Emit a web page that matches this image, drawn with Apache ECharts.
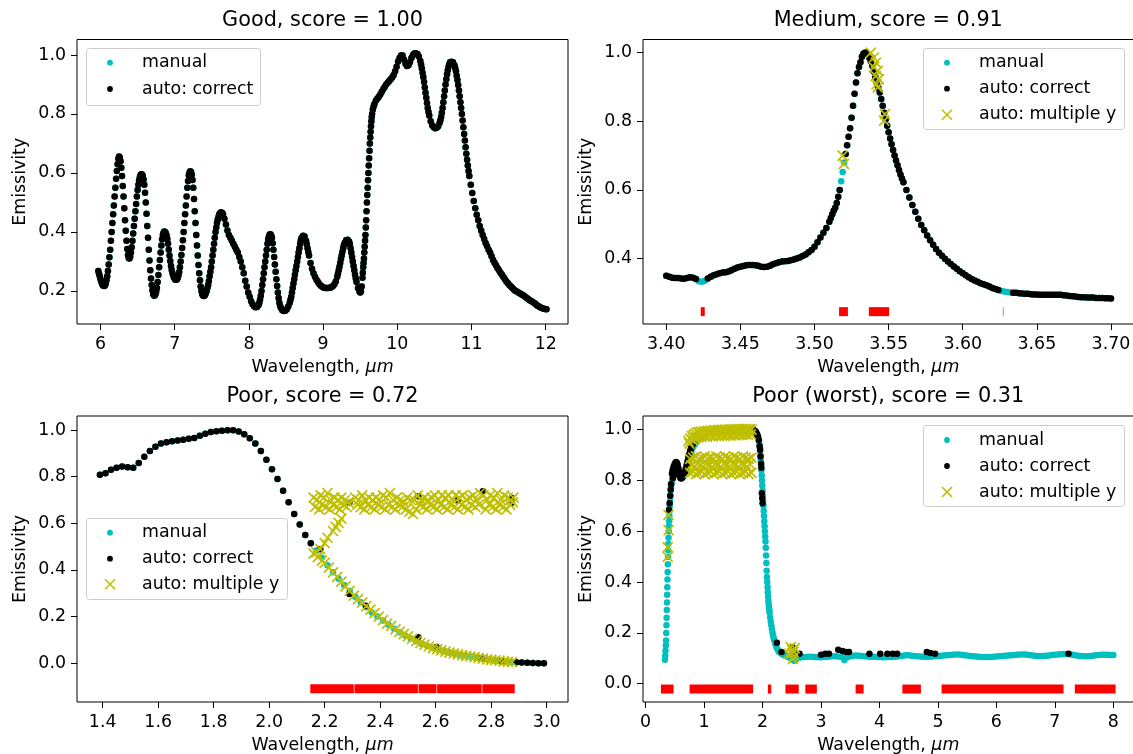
<!DOCTYPE html>
<html><head><meta charset="utf-8">
<script src="https://cdn.jsdelivr.net/npm/echarts@6/dist/echarts.min.js"></script>
<style>html,body{margin:0;padding:0;background:#fff}#c{width:1133px;height:754px}</style>
</head><body><div id="c"></div>
<script>
// ---------------- DATA ----------------
const titles = ['Good, score = 1.00', 'Medium, score = 0.91', 'Poor, score = 0.72', 'Poor (worst), score = 0.31'];
const seriesNames = ['manual', 'auto: correct', 'auto: multiple y'];
const xTicks = [[6,7,8,9,10,11,12],[3.40,3.45,3.50,3.55,3.60,3.65,3.70],[1.4,1.6,1.8,2.0,2.2,2.4,2.6,2.8,3.0],[0,1,2,3,4,5,6,7,8]];
const yTicks = [[0.2,0.4,0.6,0.8,1.0],[0.4,0.6,0.8,1.0],[0,0.2,0.4,0.6,0.8,1.0],[0,0.2,0.4,0.6,0.8,1.0]];

// Panel 1 (Good): manual and auto coincide
const p1Manual = [[5.97,.268],[5.98,.258],[5.99,.25],[6.00,.24],[6.01,.232],[6.02,.225],[6.03,.22],[6.04,.218],[6.05,.217],[6.06,.219],[6.07,.225],[6.08,.236],[6.09,.25],[6.10,.268],[6.11,.29],[6.12,.314],[6.13,.34],[6.14,.37],[6.15,.40],[6.16,.43],[6.17,.46],[6.18,.49],[6.19,.52],[6.20,.55],[6.21,.58],[6.22,.607],[6.23,.63],[6.24,.648],[6.25,.656],[6.26,.652],[6.27,.64],[6.28,.618],[6.29,.59],[6.30,.556],[6.31,.52],[6.32,.48],[6.33,.44],[6.34,.404],[6.35,.37],[6.36,.342],[6.37,.322],[6.38,.312],[6.39,.31],[6.40,.316],[6.41,.33],[6.42,.348],[6.43,.37],[6.44,.395],[6.45,.42],[6.46,.445],[6.47,.47],[6.48,.495],[6.49,.52],[6.50,.542],[6.51,.56],[6.52,.575],[6.53,.586],[6.54,.593],[6.55,.596],[6.56,.595],[6.57,.59],[6.58,.578],[6.59,.56],[6.60,.533],[6.61,.50],[6.62,.462],[6.63,.42],[6.64,.38],[6.65,.34],[6.66,.303],[6.67,.27],[6.68,.242],[6.69,.22],[6.70,.202],[6.71,.19],[6.72,.185],[6.73,.185],[6.74,.189],[6.75,.197],[6.76,.21],[6.77,.23],[6.78,.254],[6.79,.28],[6.80,.305],[6.81,.33],[6.82,.354],[6.83,.375],[6.84,.39],[6.85,.398],[6.86,.402],[6.87,.40],[6.88,.396],[6.89,.388],[6.90,.376],[6.91,.36],[6.92,.34],[6.93,.32],[6.94,.302],[6.95,.285],[6.96,.271],[6.97,.26],[6.98,.252],[6.99,.246],[7.00,.241],[7.01,.238],[7.02,.238],[7.03,.24],[7.04,.244],[7.05,.252],[7.06,.264],[7.07,.28],[7.08,.30],[7.09,.322],[7.10,.346],[7.11,.372],[7.12,.40],[7.13,.43],[7.14,.46],[7.15,.49],[7.16,.52],[7.17,.55],[7.18,.573],[7.19,.592],[7.20,.602],[7.21,.606],[7.22,.603],[7.23,.594],[7.24,.576],[7.25,.55],[7.26,.512],[7.27,.47],[7.28,.43],[7.29,.39],[7.30,.354],[7.31,.32],[7.32,.288],[7.33,.26],[7.34,.236],[7.35,.215],[7.36,.20],[7.37,.19],[7.38,.185],[7.39,.183],[7.40,.184],[7.41,.187],[7.42,.193],[7.43,.20],[7.44,.21],[7.45,.22],[7.46,.234],[7.47,.25],[7.48,.265],[7.49,.28],[7.50,.30],[7.51,.32],[7.52,.34],[7.53,.36],[7.54,.38],[7.55,.40],[7.56,.415],[7.57,.43],[7.58,.442],[7.59,.452],[7.60,.459],[7.61,.463],[7.62,.466],[7.63,.466],[7.64,.464],[7.65,.46],[7.67,.445],[7.69,.425],[7.71,.405],[7.73,.39],[7.75,.38],[7.77,.37],[7.79,.36],[7.81,.35],[7.83,.34],[7.85,.33],[7.87,.315],[7.89,.30],[7.91,.28],[7.93,.26],[7.95,.235],[7.97,.215],[7.99,.195],[8.01,.18],[8.03,.165],[8.05,.155],[8.07,.148],[8.09,.145],[8.11,.146],[8.13,.152],[8.14,.16],[8.15,.17],[8.16,.184],[8.17,.20],[8.18,.22],[8.19,.24],[8.20,.26],[8.21,.28],[8.22,.30],[8.23,.32],[8.24,.34],[8.25,.36],[8.26,.375],[8.27,.385],[8.28,.391],[8.29,.392],[8.30,.388],[8.31,.38],[8.32,.362],[8.33,.34],[8.34,.315],[8.35,.29],[8.36,.265],[8.37,.24],[8.38,.217],[8.39,.195],[8.40,.176],[8.41,.16],[8.42,.15],[8.43,.143],[8.45,.135],[8.47,.132],[8.49,.133],[8.51,.138],[8.53,.147],[8.55,.16],[8.56,.17],[8.57,.18],[8.58,.195],[8.59,.21],[8.60,.225],[8.61,.24],[8.62,.255],[8.63,.27],[8.64,.285],[8.65,.30],[8.66,.315],[8.67,.33],[8.68,.345],[8.69,.36],[8.70,.372],[8.71,.38],[8.73,.387],[8.75,.385],[8.77,.37],[8.78,.358],[8.79,.345],[8.80,.332],[8.81,.32],[8.83,.295],[8.85,.275],[8.87,.26],[8.89,.248],[8.91,.238],[8.93,.23],[8.95,.223],[8.97,.218],[8.99,.214],[9.01,.211],[9.03,.21],[9.05,.21],[9.07,.21],[9.09,.211],[9.11,.213],[9.13,.216],[9.15,.222],[9.17,.232],[9.19,.248],[9.20,.258],[9.21,.27],[9.22,.282],[9.23,.295],[9.24,.308],[9.25,.32],[9.26,.333],[9.27,.345],[9.28,.355],[9.29,.363],[9.31,.372],[9.33,.374],[9.35,.368],[9.36,.358],[9.37,.345],[9.38,.33],[9.39,.315],[9.40,.30],[9.41,.285],[9.42,.27],[9.43,.255],[9.44,.242],[9.45,.23],[9.47,.21],[9.49,.198],[9.50,.195],[9.51,.198],[9.52,.215],[9.53,.245],[9.535,.262],[9.54,.28],[9.545,.295],[9.55,.31],[9.555,.33],[9.56,.35],[9.565,.37],[9.57,.39],[9.575,.415],[9.58,.44],[9.585,.47],[9.59,.50],[9.595,.525],[9.60,.55],[9.605,.575],[9.61,.60],[9.615,.625],[9.62,.65],[9.625,.675],[9.63,.70],[9.635,.72],[9.64,.74],[9.645,.758],[9.65,.775],[9.655,.79],[9.66,.80],[9.67,.815],[9.68,.825],[9.69,.833],[9.71,.845],[9.73,.852],[9.75,.858],[9.77,.866],[9.79,.875],[9.81,.884],[9.83,.892],[9.85,.90],[9.87,.906],[9.89,.912],[9.91,.918],[9.93,.924],[9.95,.932],[9.97,.945],[9.99,.96],[10.01,.978],[10.03,.99],[10.05,.998],[10.07,.998],[10.09,.985],[10.11,.97],[10.13,.963],[10.15,.965],[10.17,.975],[10.19,.99],[10.21,1.0],[10.23,1.005],[10.25,1.006],[10.27,1.003],[10.29,.995],[10.31,.98],[10.32,.968],[10.33,.955],[10.34,.94],[10.35,.925],[10.36,.908],[10.37,.89],[10.38,.872],[10.39,.855],[10.40,.837],[10.41,.82],[10.42,.807],[10.43,.795],[10.45,.775],[10.47,.762],[10.49,.755],[10.51,.752],[10.53,.753],[10.55,.758],[10.57,.77],[10.58,.779],[10.59,.79],[10.60,.804],[10.61,.82],[10.62,.84],[10.63,.86],[10.64,.88],[10.65,.90],[10.66,.918],[10.67,.935],[10.68,.948],[10.69,.96],[10.70,.968],[10.71,.975],[10.73,.977],[10.75,.975],[10.77,.965],[10.78,.956],[10.79,.945],[10.80,.93],[10.81,.915],[10.82,.898],[10.83,.88],[10.84,.86],[10.85,.84],[10.86,.82],[10.87,.80],[10.88,.778],[10.89,.755],[10.90,.732],[10.91,.71],[10.92,.687],[10.93,.665],[10.94,.645],[10.95,.625],[10.96,.607],[10.97,.59],[10.99,.56],[11.01,.532],[11.03,.505],[11.05,.48],[11.07,.458],[11.09,.44],[11.11,.42],[11.13,.405],[11.15,.39],[11.17,.376],[11.19,.363],[11.21,.352],[11.23,.34],[11.25,.33],[11.27,.318],[11.29,.305],[11.31,.296],[11.33,.287],[11.35,.278],[11.37,.27],[11.39,.262],[11.41,.255],[11.43,.247],[11.45,.24],[11.47,.232],[11.49,.226],[11.51,.22],[11.53,.215],[11.55,.21],[11.57,.205],[11.59,.201],[11.61,.198],[11.63,.195],[11.65,.192],[11.67,.189],[11.69,.186],[11.71,.183],[11.73,.179],[11.75,.175],[11.77,.171],[11.79,.168],[11.81,.165],[11.83,.162],[11.85,.158],[11.87,.154],[11.89,.15],[11.91,.147],[11.93,.144],[11.95,.142],[11.97,.14],[11.99,.139],[12.01,.138]];

// Panel 2 (Medium)
const p2Manual = [[3.400,.350],[3.402,.347],[3.404,.344],[3.406,.343],[3.408,.343],[3.410,.342],[3.412,.341],[3.414,.343],[3.416,.345],[3.418,.344],[3.420,.34],[3.422,.334],[3.424,.332],[3.426,.335],[3.428,.342],[3.430,.347],[3.432,.351],[3.434,.354],[3.436,.357],[3.438,.359],[3.440,.36],[3.442,.362],[3.444,.366],[3.446,.370],[3.448,.374],[3.450,.376],[3.452,.378],[3.454,.38],[3.456,.381],[3.458,.381],[3.460,.38],[3.462,.379],[3.464,.376],[3.466,.375],[3.468,.376],[3.470,.379],[3.472,.383],[3.474,.386],[3.476,.389],[3.478,.391],[3.480,.392],[3.482,.393],[3.484,.395],[3.486,.397],[3.488,.40],[3.490,.403],[3.492,.407],[3.494,.412],[3.496,.418],[3.498,.425],[3.500,.434],[3.502,.447],[3.504,.461],[3.506,.475],[3.508,.489],[3.510,.507],[3.511,.518],[3.512,.529],[3.513,.540],[3.514,.548],[3.515,.562],[3.516,.580],[3.517,.600],[3.518,.625],[3.519,.652],[3.520,.68],[3.521,.705],[3.522,.73],[3.523,.755],[3.524,.78],[3.525,.81],[3.526,.845],[3.527,.88],[3.528,.913],[3.529,.94],[3.530,.958],[3.531,.972],[3.532,.988],[3.533,.997],[3.534,1.0],[3.535,1.0],[3.536,.995],[3.537,.985],[3.538,.975],[3.539,.962],[3.540,.945],[3.541,.93],[3.542,.912],[3.543,.898],[3.544,.884],[3.545,.865],[3.546,.845],[3.547,.825],[3.548,.806],[3.549,.787],[3.550,.768],[3.551,.75],[3.552,.733],[3.553,.716],[3.554,.70],[3.555,.686],[3.556,.672],[3.557,.658],[3.558,.645],[3.559,.633],[3.560,.622],[3.562,.60],[3.564,.578],[3.566,.556],[3.568,.536],[3.570,.516],[3.572,.498],[3.574,.482],[3.576,.467],[3.578,.453],[3.580,.44],[3.582,.428],[3.584,.417],[3.586,.408],[3.588,.399],[3.590,.391],[3.592,.384],[3.594,.377],[3.596,.370],[3.598,.363],[3.600,.357],[3.602,.351],[3.604,.345],[3.606,.34],[3.608,.336],[3.610,.332],[3.612,.328],[3.614,.325],[3.616,.322],[3.618,.318],[3.620,.314],[3.622,.311],[3.624,.308],[3.626,.305],[3.628,.304],[3.630,.302],[3.632,.301],[3.634,.30],[3.636,.30],[3.638,.299],[3.640,.298],[3.642,.297],[3.644,.297],[3.646,.296],[3.648,.295],[3.650,.295],[3.652,.294],[3.654,.294],[3.656,.294],[3.658,.294],[3.660,.294],[3.662,.294],[3.664,.294],[3.666,.294],[3.668,.293],[3.670,.292],[3.672,.291],[3.674,.29],[3.676,.289],[3.678,.288],[3.680,.287],[3.682,.287],[3.684,.286],[3.686,.286],[3.688,.286],[3.690,.285],[3.692,.285],[3.694,.285],[3.696,.284],[3.698,.284],[3.700,.283]];
const p2AutoGaps = [[3.4205,3.4265],[3.5175,3.5205],[3.6255,3.6325]];
const p2Multi = [[3.519,.70],[3.5198,.676],[3.538,1.0],[3.540,.986],[3.5414,.971],[3.540,.957],[3.5427,.947],[3.5414,.932],[3.5434,.923],[3.5419,.908],[3.5427,.899],[3.5475,.821],[3.547,.802]];
const p2Missing = [[3.4236,3.4256],[3.5169,3.5222],[3.537,3.550],[3.6273,3.6275]];
const p2MissingY = 0.245;

// Panel 3 (Poor)
const p3Manual = [[1.39,.808],[1.41,.815],[1.43,.83],[1.45,.838],[1.47,.843],[1.49,.84],[1.51,.838],[1.53,.858],[1.55,.885],[1.57,.91],[1.59,.928],[1.61,.942],[1.63,.948],[1.65,.952],[1.67,.955],[1.69,.958],[1.71,.962],[1.73,.966],[1.75,.975],[1.77,.984],[1.79,.991],[1.81,.995],[1.83,.997],[1.85,.999],[1.87,.999],[1.89,.994],[1.91,.982],[1.93,.965],[1.95,.942],[1.97,.91],[1.99,.872],[2.01,.832],[2.03,.79],[2.05,.74],[2.07,.69],[2.09,.64],[2.11,.595],[2.13,.55],[2.15,.515],[2.17,.483],[2.19,.452],[2.21,.42],[2.23,.39],[2.25,.362],[2.27,.336],[2.29,.31],[2.31,.285],[2.33,.262],[2.35,.24],[2.37,.218],[2.39,.20],[2.41,.183],[2.43,.165],[2.45,.148],[2.47,.133],[2.49,.119],[2.51,.106],[2.53,.094],[2.55,.083],[2.57,.074],[2.59,.066],[2.61,.059],[2.63,.052],[2.65,.046],[2.67,.041],[2.69,.036],[2.71,.032],[2.73,.028],[2.75,.024],[2.77,.02],[2.79,.016],[2.81,.013],[2.83,.01],[2.85,.007],[2.87,.005],[2.89,.004],[2.91,.003],[2.93,.002],[2.95,.001],[2.97,0],[2.99,0]];
const p3AutoUntil = 2.15;
const p3AutoExtra = [[2.184,.489],[2.289,.297],[2.348,.247],[2.537,.112],[2.603,.07],[2.766,.023],[2.838,.009],[2.289,.688],[2.537,.716],[2.68,.699],[2.77,.737],[2.874,.688],[2.874,.709],[2.89,.004],[2.91,.003],[2.93,.002],[2.95,.001],[2.97,0],[2.99,0]];
const p3MultiLower = [[2.16,.47],[2.175,.455],[2.19,.44],[2.20,.43],[2.215,.41],[2.23,.39],[2.245,.37],[2.26,.35],[2.275,.33],[2.29,.31],[2.305,.29],[2.32,.275],[2.335,.26],[2.35,.245],[2.365,.23],[2.38,.215],[2.395,.20],[2.41,.185],[2.425,.17],[2.44,.16],[2.455,.145],[2.47,.135],[2.485,.125],[2.50,.115],[2.515,.105],[2.53,.095],[2.545,.087],[2.56,.08],[2.575,.072],[2.59,.065],[2.605,.06],[2.62,.055],[2.635,.05],[2.65,.046],[2.665,.042],[2.68,.038],[2.695,.035],[2.71,.032],[2.725,.029],[2.74,.026],[2.755,.023],[2.77,.02],[2.785,.017],[2.80,.015],[2.815,.013],[2.83,.011],[2.845,.008],[2.86,.006],[2.875,.005]];
const p3MultiRise = [[2.17,.475],[2.184,.489],[2.20,.515],[2.21,.538],[2.23,.567],[2.24,.585],[2.25,.602],[2.26,.62]];
const p3MultiUpperA = [[2.160,.71],[2.172,.70],[2.185,.72],[2.197,.71],[2.21,.73],[2.222,.70],[2.235,.71],[2.248,.70],[2.26,.71],[2.273,.70],[2.285,.69],[2.31,.71],[2.322,.70],[2.335,.72],[2.347,.70],[2.36,.71],[2.372,.70],[2.385,.71],[2.397,.70],[2.41,.72],[2.422,.71],[2.435,.73],[2.447,.70],[2.46,.71],[2.472,.70],[2.485,.69],[2.497,.71],[2.51,.70],[2.522,.70],[2.535,.72],[2.547,.70],[2.56,.71],[2.572,.70],[2.585,.71],[2.597,.72],[2.61,.70],[2.622,.72],[2.635,.71],[2.647,.72],[2.66,.70],[2.672,.72],[2.685,.71],[2.697,.72],[2.71,.70],[2.722,.71],[2.735,.72],[2.747,.70],[2.76,.73],[2.772,.72],[2.785,.70],[2.797,.72],[2.81,.71],[2.822,.73],[2.835,.70],[2.847,.72],[2.86,.71],[2.872,.70],[2.88,.71]];
const p3MultiUpperB = [[2.165,.67],[2.18,.66],[2.19,.68],[2.205,.67],[2.218,.66],[2.23,.68],[2.243,.67],[2.255,.66],[2.268,.68],[2.28,.67],[2.318,.68],[2.33,.67],[2.343,.66],[2.355,.68],[2.368,.67],[2.38,.66],[2.393,.68],[2.405,.67],[2.418,.66],[2.43,.68],[2.443,.67],[2.455,.66],[2.468,.68],[2.48,.67],[2.493,.66],[2.505,.65],[2.518,.64],[2.53,.66],[2.543,.68],[2.555,.67],[2.568,.66],[2.58,.68],[2.593,.67],[2.605,.66],[2.618,.68],[2.63,.67],[2.643,.66],[2.655,.68],[2.668,.67],[2.68,.66],[2.693,.68],[2.705,.67],[2.718,.66],[2.73,.68],[2.743,.67],[2.755,.68],[2.78,.66],[2.793,.68],[2.805,.67],[2.818,.66],[2.83,.68],[2.843,.67],[2.855,.66],[2.868,.68],[2.878,.69]];
const p3Missing = [[2.15,2.303],[2.309,2.534],[2.54,2.601],[2.607,2.764],[2.77,2.883]];
const p3MissingY = -0.109;

// Panel 4 (Poor, worst)
const p4Manual = [[0.330,.094],[0.335,.11],[0.34,.13],[0.345,.15],[0.35,.17],[0.353,.20],[0.356,.23],[0.359,.26],[0.362,.29],[0.365,.32],[0.368,.35],[0.371,.38],[0.374,.41],[0.377,.44],[0.380,.47],[0.383,.50],[0.386,.525],[0.389,.55],[0.392,.575],[0.395,.60],[0.398,.62],[0.401,.64],[0.405,.66],[0.409,.68],[0.413,.70],[0.418,.72],[0.423,.74],[0.429,.76],[0.436,.775],[0.445,.79],[0.455,.80],[0.465,.81],[0.475,.82],[0.485,.83],[0.495,.84],[0.505,.848],[0.515,.853],[0.525,.856],[0.535,.857],[0.545,.855],[0.555,.85],[0.565,.842],[0.575,.833],[0.585,.825],[0.595,.819],[0.605,.815],[0.615,.814],[0.625,.814],[0.635,.815],[0.645,.816],[0.655,.818],[0.665,.821],[0.675,.826],[0.685,.832],[0.695,.84],[0.705,.849],[0.715,.857],[0.725,.864],[0.735,.872],[0.745,.881],[0.755,.891],[0.765,.901],[0.775,.91],[0.785,.917],[0.80,.926],[0.82,.935],[0.84,.943],[0.86,.95],[0.88,.957],[0.90,.962],[0.93,.968],[0.96,.974],[1.00,.979],[1.04,.984],[1.10,.989],[1.15,.992],[1.20,.994],[1.30,.996],[1.40,.997],[1.50,.997],[1.60,.998],[1.70,.998],[1.80,.998],[1.84,.997],[1.87,.995],[1.89,.99],[1.91,.982],[1.93,.968],[1.94,.955],[1.95,.94],[1.955,.93],[1.96,.92],[1.965,.90],[1.97,.88],[1.975,.86],[1.98,.84],[1.985,.82],[1.99,.80],[1.995,.78],[2.00,.76],[2.005,.74],[2.01,.72],[2.015,.70],[2.02,.68],[2.025,.66],[2.03,.64],[2.035,.62],[2.04,.60],[2.045,.58],[2.05,.56],[2.055,.535],[2.06,.505],[2.065,.475],[2.07,.445],[2.075,.42],[2.08,.40],[2.085,.38],[2.09,.36],[2.095,.342],[2.10,.326],[2.105,.312],[2.11,.30],[2.115,.29],[2.12,.28],[2.13,.262],[2.14,.245],[2.15,.23],[2.16,.215],[2.17,.202],[2.18,.19],[2.19,.18],[2.20,.17],[2.22,.155],[2.24,.143],[2.26,.134],[2.28,.127],[2.30,.122],[2.33,.117],[2.36,.113],[2.39,.11],[2.42,.107],[2.45,.104],[2.48,.10],[2.51,.095],[2.54,.09],[2.57,.094],[2.60,.10],[2.63,.103],[2.65,.104],[2.70,.105],[2.75,.105],[2.80,.106],[2.85,.106],[2.90,.105],[2.95,.104],[3.00,.104],[3.05,.105],[3.10,.106],[3.15,.107],[3.20,.108],[3.25,.108],[3.30,.107],[3.35,.105],[3.40,.093],[3.45,.104],[3.50,.108],[3.55,.11],[3.60,.111],[3.65,.11],[3.70,.109],[3.75,.108],[3.80,.107],[3.85,.106],[3.90,.106],[3.95,.105],[4.00,.105],[4.05,.104],[4.10,.104],[4.15,.105],[4.20,.105],[4.25,.106],[4.30,.107],[4.35,.109],[4.40,.11],[4.45,.112],[4.50,.112],[4.55,.11],[4.60,.109],[4.65,.108],[4.70,.107],[4.75,.106],[4.80,.106],[4.85,.106],[4.90,.107],[4.95,.108],[5.00,.109],[5.05,.11],[5.10,.111],[5.15,.112],[5.20,.113],[5.25,.114],[5.30,.115],[5.35,.115],[5.40,.114],[5.45,.112],[5.50,.111],[5.55,.109],[5.60,.108],[5.65,.107],[5.70,.106],[5.75,.105],[5.80,.105],[5.85,.105],[5.90,.105],[5.95,.106],[6.00,.107],[6.05,.108],[6.10,.109],[6.15,.11],[6.20,.111],[6.25,.112],[6.30,.113],[6.35,.114],[6.40,.115],[6.45,.115],[6.50,.115],[6.55,.113],[6.60,.112],[6.65,.11],[6.70,.109],[6.75,.109],[6.80,.109],[6.85,.11],[6.90,.111],[6.95,.113],[7.00,.114],[7.05,.115],[7.10,.116],[7.15,.117],[7.20,.117],[7.25,.116],[7.30,.114],[7.35,.112],[7.40,.11],[7.45,.109],[7.50,.108],[7.55,.108],[7.60,.109],[7.65,.11],[7.70,.112],[7.75,.113],[7.80,.114],[7.85,.114],[7.90,.114],[7.95,.113],[8.00,.113]];
const p4Auto = [[0.40,.685],[0.41,.71],[0.42,.74],[0.428,.765],[0.435,.785],[0.45,.827],[0.46,.838],[0.466,.81],[0.47,.846],[0.48,.855],[0.48,.82],[0.495,.864],[0.495,.83],[0.51,.87],[0.52,.873],[0.535,.87],[0.546,.864],[0.555,.852],[0.565,.84],[0.575,.828],[0.583,.817],[0.595,.81],[0.607,.808],[0.62,.81],[0.638,.815],[0.655,.824],[0.67,.834],[0.685,.846],[0.70,.86],[0.715,.875],[0.73,.89],[0.745,.903],[0.76,.916],[0.775,.927],[0.79,.936],[0.805,.943],[0.82,.95],[1.80,1.0],[1.815,1.0],[1.83,1.0],[1.845,.999],[1.86,.997],[1.875,.994],[1.89,.989],[1.905,.982],[1.92,.973],[1.935,.96],[1.95,.935],[1.957,.92],[1.965,.895],[1.975,.866],[1.98,.85],[1.988,.75],[1.994,.73],[2.0,.71],[2.245,.161],[2.325,.125],[2.509,.144],[2.54,.118],[2.632,.118],[3.0,.114],[3.074,.118],[3.135,.118],[3.294,.134],[3.368,.129],[3.429,.125],[3.479,.125],[3.828,.118],[4.012,.118],[4.135,.118],[4.227,.118],[4.301,.118],[4.81,.125],[4.871,.121],[4.951,.118],[7.233,.118]];
const p4MultiLeft = [[0.39,.665],[0.392,.605],[0.378,.538],[0.378,.499]];
const p4MultiTop = [[0.73,.955],[0.76,.965],[0.79,.975],[0.82,.98],[0.85,.985],[0.88,.99],[0.91,.99],[0.94,.993],[0.97,.99],[1.00,.995],[1.03,.992],[1.06,.996],[1.09,.993],[1.12,.997],[1.15,.994],[1.18,.998],[1.21,.995],[1.24,.999],[1.27,.996],[1.30,1.0],[1.33,.997],[1.36,1.0],[1.39,.997],[1.42,1.0],[1.45,.998],[1.48,1.001],[1.51,.998],[1.54,1.002],[1.57,.999],[1.60,1.002],[1.63,.999],[1.66,1.002],[1.69,1.0],[1.72,1.003],[1.75,1.0],[1.78,1.002],[1.81,1.0],[0.75,.945],[0.80,.96],[0.85,.965],[0.90,.97],[0.95,.972],[1.00,.975],[1.05,.972],[1.10,.976],[1.15,.974],[1.20,.978],[1.25,.975],[1.30,.978],[1.35,.976],[1.40,.979],[1.45,.977],[1.50,.98],[1.55,.978],[1.60,.981],[1.65,.979],[1.70,.982],[1.75,.98],[1.80,.982]];
const p4MultiMid = [[0.76,.885],[0.81,.89],[0.86,.895],[0.91,.885],[0.96,.89],[1.01,.895],[1.06,.885],[1.11,.89],[1.16,.885],[1.21,.895],[1.26,.89],[1.31,.885],[1.36,.895],[1.41,.89],[1.46,.885],[1.51,.895],[1.56,.89],[1.61,.885],[1.66,.895],[1.71,.89],[1.76,.885],[1.81,.89],[0.785,.86],[0.835,.855],[0.885,.865],[0.935,.86],[0.985,.855],[1.035,.865],[1.085,.86],[1.135,.855],[1.185,.865],[1.235,.86],[1.285,.855],[1.335,.865],[1.385,.86],[1.435,.855],[1.485,.865],[1.535,.86],[1.585,.855],[1.635,.865],[1.685,.86],[1.735,.855],[1.785,.865],[0.76,.83],[0.81,.835],[0.86,.825],[0.91,.83],[0.96,.835],[1.01,.825],[1.06,.83],[1.11,.835],[1.16,.825],[1.21,.83],[1.26,.835],[1.31,.825],[1.36,.83],[1.41,.835],[1.46,.825],[1.51,.83],[1.56,.835],[1.61,.825],[1.66,.83],[1.71,.835],[1.76,.825],[1.81,.83]];
const p4MultiLow = [[2.45,.118],[2.48,.144],[2.51,.131],[2.52,.098],[2.54,.108],[2.50,.12],[2.55,.14],[2.53,.125]];
const p4Missing = [[0.27,0.47],[0.76,1.83],[2.10,2.14],[2.40,2.61],[2.74,2.92],[3.60,3.72],[4.40,4.70],[5.07,7.14],[7.35,8.03]];
const p4MissingY = -0.021;

// ---------------- CHART ----------------
const FONT = 'DejaVu Sans';
const FS = 17.4, FS_TITLE = 20.8;
const CYAN = '#00bfbf', BLACK = '#000000', YEL = '#bfbf00', RED = '#ff0000';
const layout = [
  {left:77, top:39.5, width:491, height:284.5, xMin:5.683, xMax:12.30, yMin:0.088, yMax:1.0525, xDec:0},
  {left:643, top:39.5, width:490.5, height:284.5, xMin:3.3843, xMax:3.7152, yMin:0.209, yMax:1.0385, xDec:2},
  {left:77, top:416, width:491, height:286, xMin:1.3074, xMax:3.0768, yMin:-0.166, yMax:1.06, xDec:1},
  {left:643, top:416, width:490.5, height:286, xMin:-0.045, xMax:8.345, yMin:-0.072, yMax:1.054, xDec:0}
];

const autoP2 = p2Manual.filter(p => !p2AutoGaps.some(g => p[0] >= g[0] && p[0] <= g[1]));
const autoP3 = p3Manual.filter(p => p[0] <= p3AutoUntil).concat(p3AutoExtra);

const DOT = 6.5;
const X_PATH = 'path://M0,0L10,10M10,0L0,10';
function dots(name, idx, data, color) {
  return {type:'scatter', name, xAxisIndex:idx, yAxisIndex:idx, data, symbol:'circle', symbolSize:DOT,
    itemStyle:{color, opacity:1}, silent:true, emphasis:{disabled:true}, animation:false};
}
function crosses(idx, data) {
  return {type:'scatter', name:seriesNames[2], xAxisIndex:idx, yAxisIndex:idx, data, symbol:X_PATH, symbolSize:10,
    itemStyle:{color:'rgba(0,0,0,0)', borderColor:YEL, borderWidth:1.7, opacity:1}, silent:true, emphasis:{disabled:true}, animation:false};
}
function missing(idx, ranges, yv) {
  return {type:'custom', name:'missing', xAxisIndex:idx, yAxisIndex:idx, silent:true, animation:false,
    data: ranges.map(r => [r[0], r[1], yv]), encode:{x:[0,1], y:2},
    renderItem: function (params, api) {
      const a = api.coord([api.value(0), api.value(2)]);
      const b = api.coord([api.value(1), api.value(2)]);
      const w = b[0] - a[0];
      let x, width, op = 1;
      if (w < 1) { x = (a[0] + b[0]) / 2 - 0.6; width = 1.2; op = 0.45; }
      else if (w < 2) { x = (a[0] + b[0]) / 2 - 1.5; width = 3; }
      else { x = a[0] - 0.5; width = w + 1; }
      return {type:'rect', shape:{x, y:a[1] - 4.5, width, height:9}, style:{fill:RED, opacity:op}};
    }};
}

const grids = [], xAxes = [], yAxes = [], titleOpts = [];
layout.forEach((L, i) => {
  grids.push({left:L.left, top:L.top, width:L.width, height:L.height, show:true, borderColor:'#000', borderWidth:1,
    backgroundColor:'rgba(0,0,0,0)', containLabel:false, outerBoundsMode:'none'});
  xAxes.push({type:'value', gridIndex:i, min:L.xMin, max:L.xMax, position:'bottom',
    axisLine:{show:false, onZero:false}, splitLine:{show:false}, minorTick:{show:false},
    axisTick:{show:true, inside:false, length:6, customValues:xTicks[i], lineStyle:{color:'#000', width:1}},
    axisLabel:{show:true, customValues:xTicks[i], margin:11.5, color:'#000', fontFamily:FONT, fontSize:FS,
      formatter: v => Number(v).toFixed(L.xDec)},
    name:'Wavelength, {i|μm}', nameLocation:'middle', nameGap:35,
    nameTextStyle:{color:'#000', fontFamily:FONT, fontSize:FS,
      rich:{i:{fontStyle:'italic', fontFamily:FONT, fontSize:FS, color:'#000'}}}});
  yAxes.push({type:'value', gridIndex:i, min:L.yMin, max:L.yMax, position:'left',
    axisLine:{show:false, onZero:false}, splitLine:{show:false}, minorTick:{show:false},
    axisTick:{show:true, inside:false, length:6, customValues:yTicks[i], lineStyle:{color:'#000', width:1}},
    axisLabel:{show:true, customValues:yTicks[i], margin:11, color:'#000', fontFamily:FONT, fontSize:FS,
      formatter: v => Number(v).toFixed(1)},
    name:'Emissivity', nameLocation:'middle', nameGap:48, nameRotate:90,
    nameTextStyle:{color:'#000', fontFamily:FONT, fontSize:FS}});
  titleOpts.push({text:titles[i], left:L.left + L.width / 2, top:L.top - 19, textAlign:'center', textVerticalAlign:'middle', padding:0,
    textStyle:{color:'#000', fontFamily:FONT, fontSize:FS_TITLE, fontWeight:'normal'}});
});

const series = [
  dots(seriesNames[0], 0, p1Manual, CYAN),
  dots(seriesNames[1], 0, p1Manual, BLACK),
  dots(seriesNames[0], 1, p2Manual, CYAN),
  dots(seriesNames[1], 1, autoP2, BLACK),
  crosses(1, p2Multi),
  missing(1, p2Missing, p2MissingY),
  dots(seriesNames[0], 2, p3Manual, CYAN),
  dots(seriesNames[1], 2, autoP3, BLACK),
  crosses(2, p3MultiLower.concat(p3MultiRise, p3MultiUpperA, p3MultiUpperB)),
  missing(2, p3Missing, p3MissingY),
  dots(seriesNames[0], 3, p4Manual, CYAN),
  dots(seriesNames[1], 3, p4Auto, BLACK),
  crosses(3, p4MultiLeft.concat(p4MultiTop, p4MultiMid, p4MultiLow)),
  missing(3, p4Missing, p4MissingY)
];

// Legends (drawn as graphic groups placed like matplotlib legends)
const legendBoxes = [
  {x:86.5, y:48.5, w:174, h:57, rows:[62.7, 89.0], n:2},
  {x:923.5, y:48.5, w:201, h:81, rows:[62.7, 88.7, 114.7], n:3},
  {x:86.5, y:518.5, w:201, h:81, rows:[532.7, 558.7, 584.3], n:3},
  {x:923.5, y:425.5, w:201, h:81, rows:[440.0, 466.0, 492.0], n:3}
];
const graphics = [];
legendBoxes.forEach(B => {
  graphics.push({type:'rect', z:100, shape:{x:B.x, y:B.y, width:B.w, height:B.h, r:3},
    style:{fill:'rgba(255,255,255,0.8)', stroke:'#cccccc', lineWidth:1}});
  const mx = B.x + 23.5, tx = B.x + 55.5;
  const colors = [CYAN, BLACK];
  for (let k = 0; k < B.n; k++) {
    const cy = B.rows[k];
    if (k < 2) {
      graphics.push({type:'circle', z:101, shape:{cx:mx, cy, r:2.9}, style:{fill:colors[k]}});
    } else {
      graphics.push({type:'line', z:101, shape:{x1:mx - 5, y1:cy - 5, x2:mx + 5, y2:cy + 5}, style:{stroke:YEL, lineWidth:1.6}});
      graphics.push({type:'line', z:101, shape:{x1:mx + 5, y1:cy - 5, x2:mx - 5, y2:cy + 5}, style:{stroke:YEL, lineWidth:1.6}});
    }
    graphics.push({type:'text', z:101, style:{text:seriesNames[k], x:tx, y:cy, fill:'#000', fontFamily:FONT, fontSize:FS,
      align:'left', verticalAlign:'middle'}});
  }
});

const chart = echarts.init(document.getElementById('c'), null, {renderer:'canvas', width:1133, height:754});
chart.setOption({
  animation:false,
  backgroundColor:'#ffffff',
  title:titleOpts,
  grid:grids,
  xAxis:xAxes,
  yAxis:yAxes,
  series:series,
  graphic:graphics
});
</script>
</body></html>
